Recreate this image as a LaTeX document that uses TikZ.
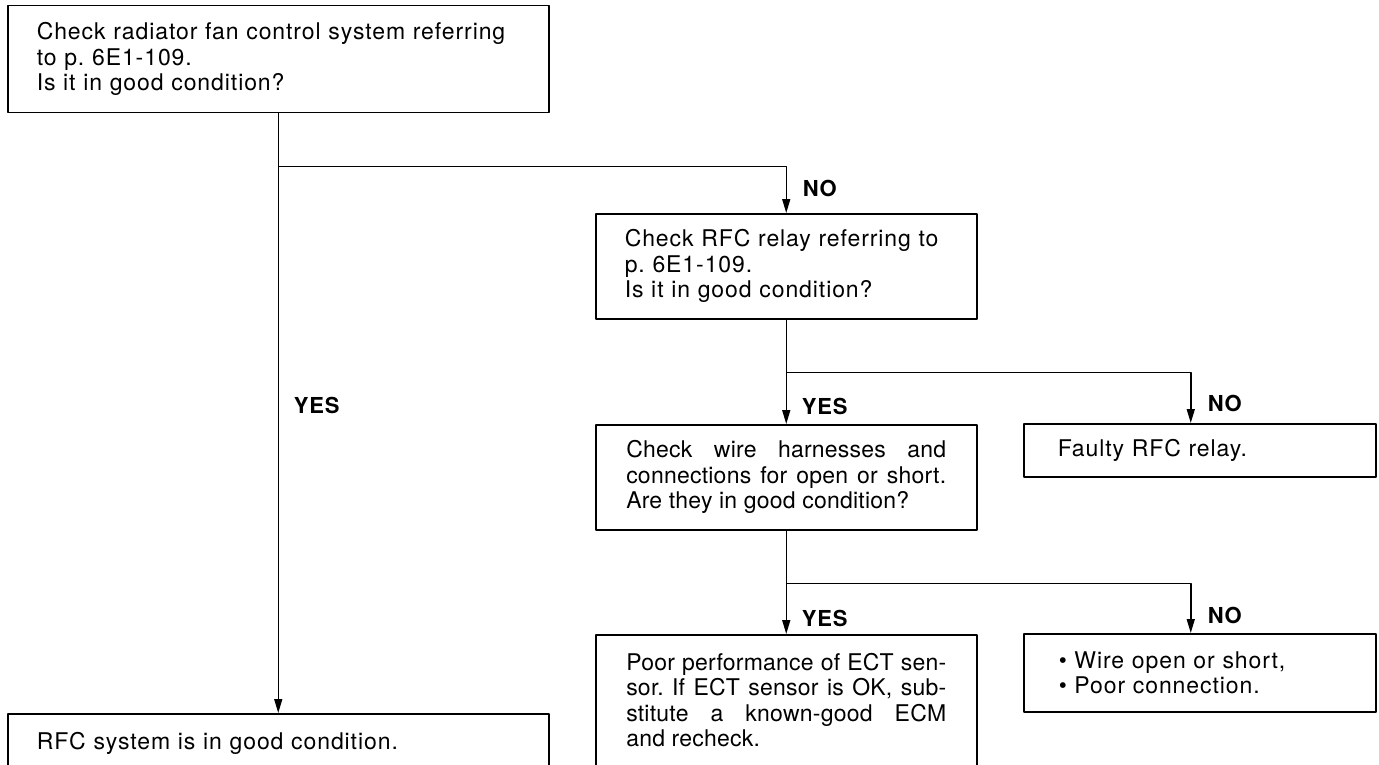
\documentclass[tikz,border=0pt]{standalone}
\usepackage{fontspec}
\setmainfont{TeX Gyre Heros}[LetterSpace=4]
\newfontfamily\tightfont{TeX Gyre Heros}[LetterSpace=1]
\usetikzlibrary{arrows.meta,calc}

\begin{document}
\frenchspacing
\begin{tikzpicture}[x=1pt, y=-1pt, line width=1.5pt, line join=round, >={Triangle[length=14pt,width=8pt]},
	box/.style={draw, anchor=north west, inner xsep=29pt, inner ysep=0pt, align=left, font=\fontsize{23}{25.5}\selectfont},
	tightbox/.style={box, align=justify, text width=320pt, font=\fontsize{23}{25.5}\selectfont\tightfont},
	ans/.style={anchor=west, inner sep=0pt, font=\fontsize{22}{22}\selectfont\bfseries}]
	\useasboundingbox (0,0) rectangle (1379,765);
	\clip (0,0) rectangle (1379,765);
	% boxes of the check sequence
	\node[box, text width=483pt, minimum height=107pt] (fansys) at (7,5) {Check radiator fan control system referring\\to p. 6E1-109.\\Is it in good condition?};
	\node[box, text width=483pt, minimum height=60pt] (sysok) at (7,713) {RFC system is in good condition.};
	\node[box, text width=323pt, minimum height=105pt] (relay) at (595,213) {Check RFC relay referring to\\p. 6E1-109.\\Is it in good condition?};
	\node[tightbox, inner xsep=30.5pt, minimum height=105pt] (wires) at (595,424) {Check wire harnesses and\linebreak connections for open or short.\linebreak Are they in good condition?};
	\node[tightbox, inner xsep=30.5pt, minimum height=131pt] (ecm) at (595,634) {Poor performance of ECT sen-\linebreak sor. If ECT sensor is OK, sub-\linebreak stitute a known-good ECM\linebreak and recheck.};
	\node[box, inner xsep=34pt, text width=284pt, minimum height=53pt] (badrelay) at (1023,423) {Faulty RFC relay.};
	\node[box, inner xsep=35pt, text width=282pt, minimum height=78pt] (openwire) at (1023,633) {\textbullet\ Wire open or short,\\\textbullet\ Poor connection.};
	% branch points
	\coordinate (j1) at ($(fansys.south)+(0,53)$);
	\coordinate (j2) at ($(relay.south)+(0,53)$);
	\coordinate (j3) at ($(wires.south)+(0,53)$);
	% connectors
	\draw[->] (fansys) -- (sysok);
	\draw[->] (j1) -| (relay.north);
	\draw[->] (relay) -- (wires);
	\draw[->] (j2) -| ([xshift=-9pt]badrelay.north);
	\draw[->] (wires) -- (ecm);
	\draw[->] (j3) -| ([xshift=-9pt]openwire.north);
	% answers
	\node[ans] (yes1) at (293,405) {YES};
	\node[ans] (no1) at (802,188) {NO};
	\node[ans] (yes2) at (801,406) {YES};
	\node[ans] (no2) at (1207,403) {NO};
	\node[ans] (yes3) at (801,618) {YES};
	\node[ans] (no3) at (1207,615) {NO};
\end{tikzpicture}
\end{document}
